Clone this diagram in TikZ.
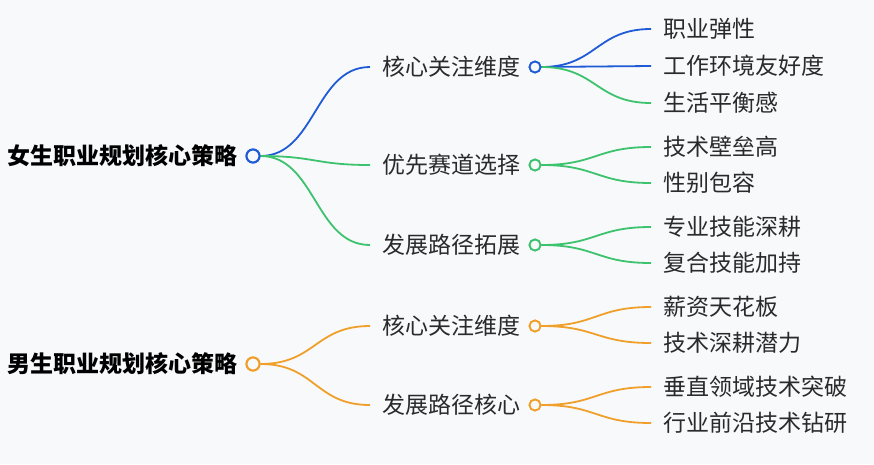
\documentclass[tikz,border=0pt]{standalone}
\usepackage{fontspec}
\setmainfont{Noto Sans CJK SC}
\definecolor{bg}{HTML}{F8F9FB}
\definecolor{cblue}{HTML}{1F5BD6}
\definecolor{cgreen}{HTML}{3DC26E}
\definecolor{corange}{HTML}{F0A02A}
\definecolor{ctext}{HTML}{2A2A2A}
\tikzset{
  rootlbl/.style={anchor=west,inner sep=0pt,font=\fontsize{23}{27}\selectfont\bfseries,text=black},
  lbl/.style={anchor=west,inner sep=0pt,font=\fontsize{23}{27}\selectfont,text=ctext},
  rootdot/.style={circle,draw=#1,line width=2pt,fill=bg,minimum size=13pt,inner sep=0pt},
  dot/.style={circle,draw=#1,line width=1.8pt,fill=bg,minimum size=11pt,inner sep=0pt},
  edge/.style={draw=#1,line width=1.8pt},
}
\newcommand{\curvelink}[4]{\draw[edge=#1] (#2.east) .. controls +(#4,0) and +(-#4,0) .. ([xshift=-12pt]#3.west);}
\begin{document}
\begin{tikzpicture}[x=1pt,y=-1pt]
\fill[bg] (0,0) rectangle (874,464);
\useasboundingbox (0,0) rectangle (874,464);
% roots
\node[rootlbl] (r1t) at (7,156) {女生职业规划核心策略};
\node[rootlbl] (r2t) at (7,364) {男生职业规划核心策略};
% level 2
\node[lbl] (a1) at (382,67) {核心关注维度};
\node[lbl] (a2) at (382,165) {优先赛道选择};
\node[lbl] (a3) at (382,245) {发展路径拓展};
\node[lbl] (b1) at (382,326) {核心关注维度};
\node[lbl] (b2) at (382,405) {发展路径核心};
% level 3
\node[lbl] (a11) at (663,29) {职业弹性};
\node[lbl] (a12) at (663,66) {工作环境友好度};
\node[lbl] (a13) at (663,103) {生活平衡感};
\node[lbl] (a21) at (663,147) {技术壁垒高};
\node[lbl] (a22) at (663,183) {性别包容};
\node[lbl] (a31) at (663,227) {专业技能深耕};
\node[lbl] (a32) at (663,263) {复合技能加持};
\node[lbl] (b11) at (663,307) {薪资天花板};
\node[lbl] (b12) at (663,343) {技术深耕潜力};
\node[lbl] (b21) at (663,387) {垂直领域技术突破};
\node[lbl] (b22) at (663,423) {行业前沿技术钻研};
% dots
\node[rootdot=cblue] (r1) at (253,156) {};
\node[rootdot=corange] (r2) at (253,364) {};
\node[dot=cblue] (da1) at (535,67) {};
\node[dot=cgreen] (da2) at (535,165) {};
\node[dot=cgreen] (da3) at (535,245) {};
\node[dot=corange] (db1) at (535,326) {};
\node[dot=corange] (db2) at (535,405) {};
% links root -> level 2
\curvelink{cblue}{r1}{a1}{55}
\curvelink{cgreen}{r1}{a2}{55}
\curvelink{cgreen}{r1}{a3}{55}
\curvelink{corange}{r2}{b1}{55}
\curvelink{corange}{r2}{b2}{55}
% links level 2 -> level 3
\curvelink{cblue}{da1}{a11}{55}
\curvelink{cblue}{da1}{a12}{55}
\curvelink{cgreen}{da1}{a13}{55}
\curvelink{cgreen}{da2}{a21}{55}
\curvelink{cgreen}{da2}{a22}{55}
\curvelink{cgreen}{da3}{a31}{55}
\curvelink{cgreen}{da3}{a32}{55}
\curvelink{corange}{db1}{b11}{55}
\curvelink{corange}{db1}{b12}{55}
\curvelink{corange}{db2}{b21}{55}
\curvelink{corange}{db2}{b22}{55}
% redraw dots on top
\node[rootdot=cblue] at (r1) {};
\node[rootdot=corange] at (r2) {};
\node[dot=cblue] at (da1) {};
\node[dot=cgreen] at (da2) {};
\node[dot=cgreen] at (da3) {};
\node[dot=corange] at (db1) {};
\node[dot=corange] at (db2) {};
\end{tikzpicture}
\end{document}
